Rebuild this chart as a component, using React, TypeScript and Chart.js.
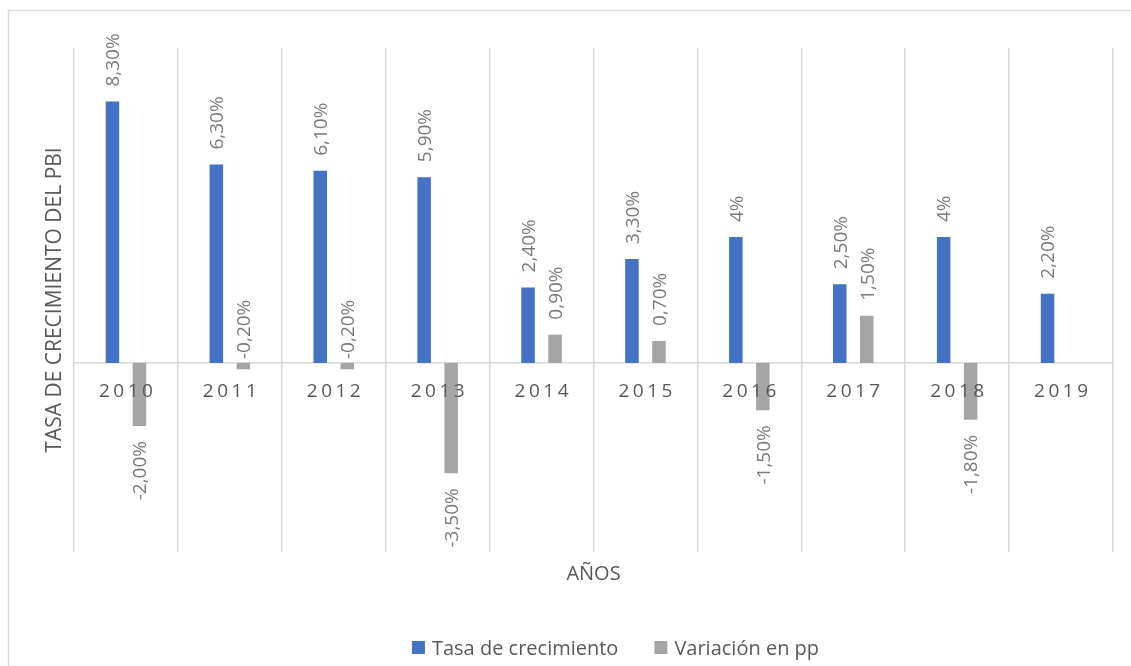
import React, { useEffect, useRef } from "react";
import { Chart, registerables } from "chart.js";

Chart.register(...registerables);

const years = ["2010", "2011", "2012", "2013", "2014", "2015", "2016", "2017", "2018", "2019"];
const tasaCrecimiento = [8.3, 6.3, 6.1, 5.9, 2.4, 3.3, 4, 2.5, 4, 2.2];
const variacionPP: (number | null)[] = [-2.0, -0.2, -0.2, -3.5, 0.9, 0.7, -1.5, 1.5, -1.8, null];
const tasaLabels = ["8,30%", "6,30%", "6,10%", "5,90%", "2,40%", "3,30%", "4%", "2,50%", "4%", "2,20%"];
const variacionLabels = ["-2,00%", "-0,20%", "-0,20%", "-3,50%", "0,90%", "0,70%", "-1,50%", "1,50%", "-1,80%", ""];
const yMin = -6;
const yMax = 10;
const seriesNames = ["Tasa de crecimiento", "Variación en pp"];
const yTitle = "TASA DE CRECIMIENTO DEL PBI";
const xTitle = "AÑOS";

const FONT = "'Open Sans', 'Noto Sans', sans-serif";
const BLUE = "#4472C4";
const GRAY = "#A5A5A5";
const GRID = "#d9d9d9";
const TEXT = "#595959";
const LABEL = "#7a7a7a";

const decorPlugin = {
  id: "decor",
  beforeDraw(chart: any) {
    const ctx = chart.ctx;
    ctx.save();
    ctx.fillStyle = "#ffffff";
    ctx.fillRect(0, 0, chart.width, chart.height);
    ctx.strokeStyle = GRID;
    ctx.lineWidth = 1.5;
    ctx.beginPath();
    ctx.moveTo(8.5, chart.height + 5);
    ctx.lineTo(8.5, 10.5);
    ctx.lineTo(chart.width + 5, 10.5);
    ctx.stroke();
    ctx.restore();
  },
  afterDatasetsDraw(chart: any) {
    const ctx = chart.ctx;
    const area = chart.chartArea;
    const xs = chart.scales.x;
    const ys = chart.scales.y;
    const zeroY = ys.getPixelForValue(0);

    // data labels
    const lfs = 19;
    chart.data.datasets.forEach((ds: any, di: number) => {
      const meta = chart.getDatasetMeta(di);
      const labels = di === 0 ? tasaLabels : variacionLabels;
      meta.data.forEach((bar: any, j: number) => {
        const v = ds.data[j];
        if (v == null || !labels[j]) return;
        const { x, y } = bar.getProps(["x", "y"], true);
        let oy: number;
        let align: CanvasTextAlign;
        if (v >= 0) {
          oy = y - 15;
          align = "left";
        } else if (v > -0.5) {
          oy = zeroY - 4;
          align = "left";
        } else {
          oy = y + 15;
          align = "right";
        }
        ctx.save();
        ctx.translate(x, oy);
        ctx.rotate(-Math.PI / 2);
        ctx.font = `${lfs}px ${FONT}`;
        ctx.fillStyle = LABEL;
        ctx.textAlign = align;
        ctx.textBaseline = "alphabetic";
        ctx.fillText(labels[j], 0, 0.357 * lfs);
        ctx.restore();
      });
    });

    // category labels with letter spacing, at zero line
    const yfs = 19;
    const ls = 3.5;
    ctx.save();
    ctx.font = `${yfs}px ${FONT}`;
    ctx.fillStyle = TEXT;
    ctx.textAlign = "left";
    ctx.textBaseline = "alphabetic";
    years.forEach((yr, j) => {
      const cx = xs.getPixelForValue(j);
      const widths = yr.split("").map((c) => ctx.measureText(c).width);
      const total = widths.reduce((a, b) => a + b, 0) + ls * (yr.length - 1);
      let px = cx - total / 2;
      yr.split("").forEach((c, k) => {
        ctx.fillText(c, px, zeroY + 34);
        px += widths[k] + ls;
      });
    });
    ctx.restore();

    // y title
    ctx.save();
    ctx.translate(53.5, (area.top + area.bottom) / 2);
    ctx.rotate(-Math.PI / 2);
    ctx.font = `21px ${FONT}`;
    ctx.fillStyle = TEXT;
    ctx.textAlign = "center";
    ctx.textBaseline = "alphabetic";
    ctx.fillText(yTitle, 0, 0.357 * 21);
    ctx.restore();

    // x title
    ctx.save();
    ctx.font = `20px ${FONT}`;
    ctx.fillStyle = TEXT;
    ctx.textAlign = "center";
    ctx.textBaseline = "alphabetic";
    ctx.fillText(xTitle, (area.left + area.right) / 2, area.bottom + 28);
    ctx.restore();

    // legend
    ctx.save();
    ctx.font = `20px ${FONT}`;
    ctx.textBaseline = "alphabetic";
    ctx.textAlign = "left";
    const box = 13;
    const gapBox = 7;
    const gapItem = 36;
    const w = seriesNames.map((n) => ctx.measureText(n).width);
    const total = box + gapBox + w[0] + gapItem + box + gapBox + w[1];
    let lx = 615.5 - total / 2;
    const colors = [BLUE, GRAY];
    seriesNames.forEach((n, i) => {
      ctx.fillStyle = colors[i];
      ctx.fillRect(lx, 641, box, box);
      ctx.fillStyle = TEXT;
      ctx.fillText(n, lx + box + gapBox, 655);
      lx += box + gapBox + w[i] + gapItem;
    });
    ctx.restore();
  },
};

export default function App() {
  const ref = useRef<HTMLCanvasElement | null>(null);

  useEffect(() => {
    if (!ref.current) return;
    Chart.defaults.font.family = FONT;
    const chart = new Chart(ref.current, {
      type: "bar",
      data: {
        labels: years,
        datasets: [
          {
            label: seriesNames[0],
            data: tasaCrecimiento,
            backgroundColor: BLUE,
            categoryPercentage: 0.52,
            barPercentage: 0.5,
          },
          {
            label: seriesNames[1],
            data: variacionPP,
            backgroundColor: GRAY,
            categoryPercentage: 0.52,
            barPercentage: 0.5,
          },
        ],
      },
      options: {
        animation: false,
        responsive: false,
        layout: { padding: { left: 74, top: 48, right: 18, bottom: 114 } },
        plugins: {
          legend: { display: false },
          title: { display: false },
          tooltip: { enabled: false },
        },
        scales: {
          x: {
            position: { y: 0 } as any,
            grid: { color: GRID, lineWidth: 1.5, drawTicks: false, offset: true },
            border: { display: true, color: GRID, width: 1.5 },
            ticks: { display: false },
          },
          y: {
            display: false,
            min: yMin,
            max: yMax,
          },
        },
      },
      plugins: [decorPlugin],
    });
    return () => chart.destroy();
  }, []);

  return (
    <div style={{ position: "fixed", left: 0, top: 0, width: 1131, height: 666 }}>
      <canvas ref={ref} width={1131} height={666} style={{ display: "block" }} />
    </div>
  );
}
